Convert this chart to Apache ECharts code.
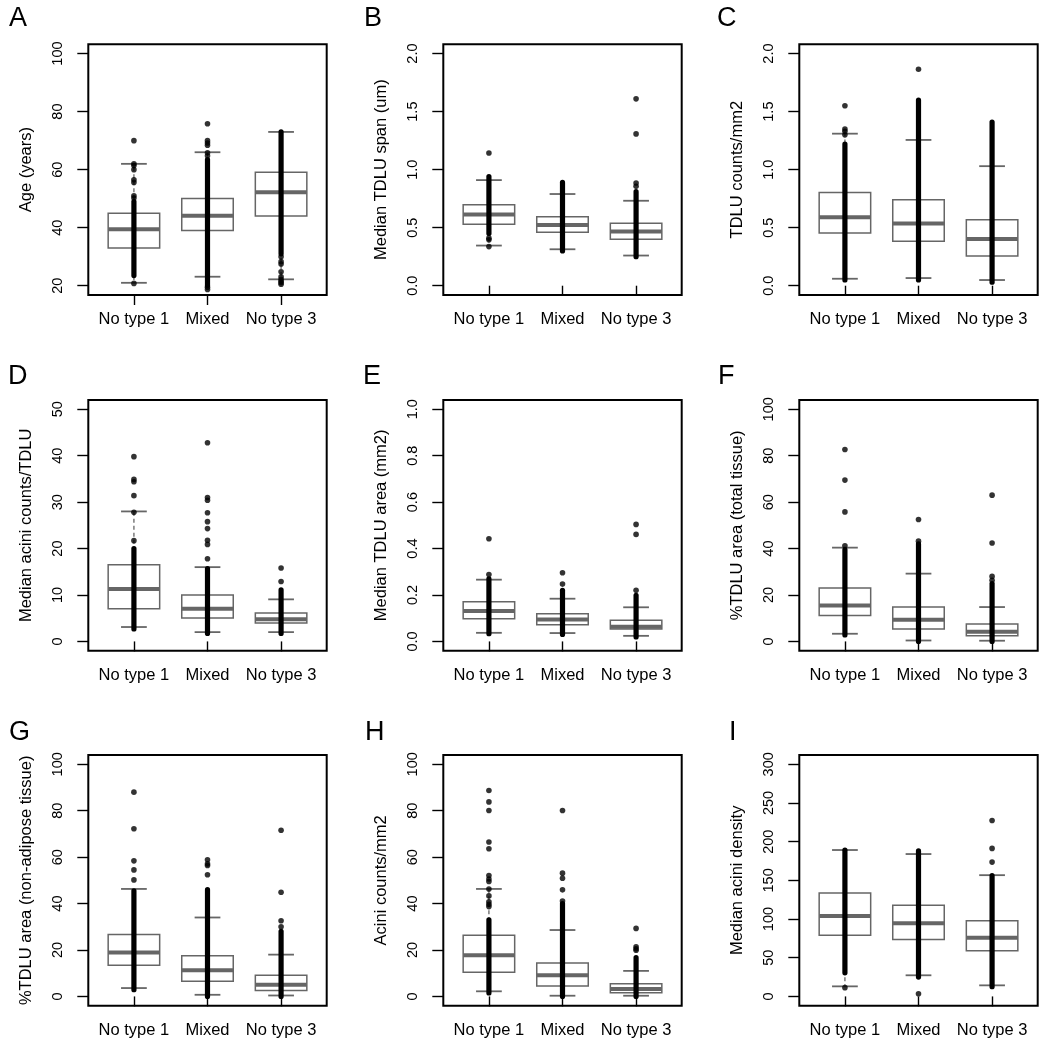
<!DOCTYPE html>
<html><head><meta charset="utf-8">
<script src="https://cdn.jsdelivr.net/npm/echarts@6/dist/echarts.min.js"></script>
<style>html,body{margin:0;padding:0;background:#fff}#c{width:1045px;height:1050px}</style>
</head><body><div id="c"></div>
<script>
// ---------------- data ----------------
const categories = ['No type 1', 'Mixed', 'No type 3'];
const panelLetters = ['A', 'B', 'C', 'D', 'E', 'F', 'G', 'H', 'I'];
const yTitles = ['Age (years)', 'Median TDLU span (um)', 'TDLU counts/mm2',
  'Median acini counts/TDLU', 'Median TDLU area (mm2)', '%TDLU area (total tissue)',
  '%TDLU area (non-adipose tissue)', 'Acini counts/mm2', 'Median acini density'];

// tick values and labels
const ageTicks = [20, 40, 60, 80, 100];
const ageTickLabels = ['20', '40', '60', '80', '100'];
const spanTicks = [0, 0.5, 1, 1.5, 2];
const spanTickLabels = ['0.0', '0.5', '1.0', '1.5', '2.0'];
const cntTicks = [0, 0.5, 1, 1.5, 2];
const cntTickLabels = ['0.0', '0.5', '1.0', '1.5', '2.0'];
const aciniTicks = [0, 10, 20, 30, 40, 50];
const aciniTickLabels = ['0', '10', '20', '30', '40', '50'];
const areaTicks = [0, 0.2, 0.4, 0.6, 0.8, 1.0];
const areaTickLabels = ['0.0', '0.2', '0.4', '0.6', '0.8', '1.0'];
const totTicks = [0, 20, 40, 60, 80, 100];
const totTickLabels = ['0', '20', '40', '60', '80', '100'];
const nonTicks = [0, 20, 40, 60, 80, 100];
const nonTickLabels = ['0', '20', '40', '60', '80', '100'];
const amTicks = [0, 20, 40, 60, 80, 100];
const amTickLabels = ['0', '20', '40', '60', '80', '100'];
const denTicks = [0, 50, 100, 150, 200, 250, 300];
const denTickLabels = ['0', '50', '100', '150', '200', '250', '300'];

// box stats per group: [lower whisker, Q1, median, Q3, upper whisker]
// dense: [low, high] of the continuous run of overplotted points
// out: individually visible points
const ageBox = [[21, 33, 39.5, 45, 62], [23.1, 39, 44.1, 50.1, 66], [22.2, 44, 52.2, 59.1, 73]];
const ageDense = [[23.5, 49], [20, 63.5], [31, 73]];
const ageOut = [[70, 62, 61.4, 60, 56.5, 55.6, 51, 50.2, 20.8], [75.8, 70, 69.2, 68.4, 65.8, 64.8, 19.5, 18.7], [30, 28.3, 27.5, 24.8, 23.1, 22.2, 21.5, 21, 20.5]];

const spanBox = [[0.346, 0.53, 0.614, 0.697, 0.91], [0.314, 0.46, 0.524, 0.594, 0.79], [0.26, 0.40, 0.467, 0.539, 0.732]];
const spanDense = [[0.45, 0.94], [0.30, 0.89], [0.25, 0.81]];
const spanOut = [[1.144, 0.41, 0.395, 0.337], [], [1.61, 1.308, 0.885, 0.856]];

const cntBox = [[0.06, 0.455, 0.59, 0.804, 1.31], [0.066, 0.383, 0.536, 0.74, 1.256], [0.049, 0.256, 0.403, 0.568, 1.03]];
const cntDense = [[0.05, 1.22], [0.05, 1.6], [0.03, 1.41]];
const cntOut = [[1.55, 1.35, 1.33, 1.30], [1.865], []];

const aciniBox = [[3.1, 7.05, 11.3, 16.5, 28], [2.0, 5.04, 7.05, 10, 16], [2.0, 3.96, 4.8, 6.1, 9.06]];
const aciniDense = [[2.7, 20], [1.7, 15.7], [1.7, 11.1]];
const aciniOut = [[39.8, 34.9, 34.4, 31.4, 27.8, 21.7], [42.8, 31, 30.4, 27.7, 25.8, 24.3, 21.8, 20.9, 17.8], [15.8, 12.9]];

const areaBox = [[0.037, 0.098, 0.131, 0.171, 0.266], [0.036, 0.072, 0.094, 0.119, 0.184], [0.024, 0.053, 0.063, 0.091, 0.147]];
const areaDense = [[0.033, 0.27], [0.03, 0.22], [0.019, 0.198]];
const areaOut = [[0.442, 0.288], [0.296, 0.247], [0.504, 0.461, 0.22]];

const totBox = [[3.3, 11.2, 15.5, 23, 40.4], [0.4, 5.3, 9.35, 14.8, 29.2], [0.3, 2.45, 4.2, 7.5, 14.8]];
const totDense = [[2.8, 39.5], [0, 42], [0, 24.9]];
const totOut = [[82.7, 69.5, 55.8, 41.2], [52.5, 43.2], [63, 42.4, 28, 26.3]];

const nonBox = [[3.6, 13.4, 18.9, 26.7, 46.3], [0.7, 6.5, 11.3, 17.5, 34], [0.4, 2.6, 5.05, 9.1, 18]];
const nonDense = [[2.9, 45.5], [0, 46], [0, 28]];
const nonOut = [[88, 72.2, 58.4, 54.5, 50.2], [58.9, 57.1, 56.4, 52.4], [71.6, 44.9, 32.6, 30]];

const amBox = [[2.2, 10.4, 17.7, 26.3, 46.3], [0.3, 4.5, 9.1, 14.4, 28.6], [0.3, 1.6, 3.2, 5.5, 11]];
const amDense = [[1.5, 33], [0, 40], [0, 16.7]];
const amOut = [[88.7, 83.8, 80.1, 66.5, 63.6, 52.1, 50.6, 49.5, 46.3, 43.3, 40.8, 39.7, 38.7], [80.1, 53.1, 50.9, 45.9, 41.1], [29.3, 21.4, 20.5, 19.9]];

const denBox = [[13, 79.2, 103.9, 133.8, 189.2], [27.3, 73.6, 94.4, 117.7, 184], [14.3, 58.9, 75.8, 97.8, 156.7]];
const denDense = [[30.5, 189], [25, 188], [12.5, 156]];
const denOut = [[11.3], [3.5], [227.3, 191.3, 173.6]];

// ---------------- assembly ----------------
const panels = [
  { ticks: ageTicks, labels: ageTickLabels, box: ageBox, dense: ageDense, out: ageOut },
  { ticks: spanTicks, labels: spanTickLabels, box: spanBox, dense: spanDense, out: spanOut },
  { ticks: cntTicks, labels: cntTickLabels, box: cntBox, dense: cntDense, out: cntOut },
  { ticks: aciniTicks, labels: aciniTickLabels, box: aciniBox, dense: aciniDense, out: aciniOut },
  { ticks: areaTicks, labels: areaTickLabels, box: areaBox, dense: areaDense, out: areaOut },
  { ticks: totTicks, labels: totTickLabels, box: totBox, dense: totDense, out: totOut },
  { ticks: nonTicks, labels: nonTickLabels, box: nonBox, dense: nonDense, out: nonOut },
  { ticks: amTicks, labels: amTickLabels, box: amBox, dense: amDense, out: amOut },
  { ticks: denTicks, labels: denTickLabels, box: denBox, dense: denDense, out: denOut }
];

const FONT = '"Liberation Sans", Arial, sans-serif';
const colLeft = [88.3, 443.3, 799.3];
const rowTop = [44.3, 400, 755];
const GW = 238.4, GH = 250.7;
const BOXCOL = '#666666';

const grids = [], xAxes = [], yAxes = [], series = [];

function renderBox(params, api) {
  const x = api.value(0), lo = api.value(1), q1 = api.value(2), med = api.value(3), q3 = api.value(4), hi = api.value(5);
  const hw = 0.35, cw = 0.175;
  const a = api.coord([x - hw, q3]), b = api.coord([x + hw, q1]);
  const m1 = api.coord([x - hw, med]), m2 = api.coord([x + hw, med]);
  const pq3 = api.coord([x, q3]), phi = api.coord([x, hi]);
  const pq1 = api.coord([x, q1]), plo = api.coord([x, lo]);
  const ch1 = api.coord([x - cw, hi]), ch2 = api.coord([x + cw, hi]);
  const cl1 = api.coord([x - cw, lo]), cl2 = api.coord([x + cw, lo]);
  const dash = { stroke: BOXCOL, lineWidth: 1.3, lineDash: [4, 3] };
  const solid = { stroke: BOXCOL, lineWidth: 1.8 };
  return {
    type: 'group', children: [
      { type: 'line', shape: { x1: pq3[0], y1: pq3[1], x2: phi[0], y2: phi[1] }, style: dash },
      { type: 'line', shape: { x1: pq1[0], y1: pq1[1], x2: plo[0], y2: plo[1] }, style: dash },
      { type: 'line', shape: { x1: ch1[0], y1: ch1[1], x2: ch2[0], y2: ch2[1] }, style: solid },
      { type: 'line', shape: { x1: cl1[0], y1: cl1[1], x2: cl2[0], y2: cl2[1] }, style: solid },
      { type: 'rect', shape: { x: a[0], y: a[1], width: b[0] - a[0], height: b[1] - a[1] }, style: { fill: '#fff', stroke: BOXCOL, lineWidth: 1.5 } },
      { type: 'line', shape: { x1: m1[0], y1: m1[1], x2: m2[0], y2: m2[1] }, style: { stroke: BOXCOL, lineWidth: 4 } }
    ]
  };
}

function renderStrip(params, api) {
  const x = api.value(0);
  const p1 = api.coord([x, api.value(1)]), p2 = api.coord([x, api.value(2)]);
  return { type: 'line', shape: { x1: p1[0], y1: p1[1], x2: p2[0], y2: p2[1] }, style: { stroke: '#000', lineWidth: 5.2, lineCap: 'round' } };
}

panels.forEach((p, i) => {
  const r = Math.floor(i / 3), c = i % 3;
  const lo = p.ticks[0], hi = p.ticks[p.ticks.length - 1];
  const ext = (hi - lo) * 0.04;
  grids.push({ left: colLeft[c], top: rowTop[r], width: GW, height: GH, show: true, borderColor: '#000', borderWidth: 2, backgroundColor: 'transparent' });
  xAxes.push({
    type: 'value', gridIndex: i, min: 0.38, max: 3.62,
    axisLine: { show: false }, splitLine: { show: false },
    axisTick: { show: true, customValues: [1, 2, 3], length: 10, lineStyle: { color: '#000', width: 1.4 } },
    axisLabel: { customValues: [1, 2, 3], formatter: v => categories[Math.round(v) - 1], fontSize: 16.5, margin: 16, color: '#000', fontFamily: FONT }
  });
  yAxes.push({
    type: 'value', gridIndex: i, min: lo - ext, max: hi + ext,
    name: yTitles[i], nameLocation: 'middle', nameGap: 53,
    nameTextStyle: { fontSize: 16.5, color: '#000', fontFamily: FONT },
    axisLine: { show: false }, splitLine: { show: false },
    axisTick: { show: true, customValues: p.ticks, length: 11, lineStyle: { color: '#000', width: 1.4 } },
    axisLabel: { customValues: p.ticks, rotate: 90, formatter: v => { const k = p.ticks.findIndex(t => Math.abs(t - v) < 1e-9); return k >= 0 ? p.labels[k] : ''; }, fontSize: 14.5, margin: 23, color: '#000', fontFamily: FONT }
  });
  series.push({
    type: 'custom', xAxisIndex: i, yAxisIndex: i, renderItem: renderBox, z: 2, silent: true,
    data: p.box.map((b, g) => [g + 1, b[0], b[1], b[2], b[3], b[4]])
  });
  series.push({
    type: 'custom', xAxisIndex: i, yAxisIndex: i, renderItem: renderStrip, z: 3, silent: true,
    data: p.dense.map((d, g) => [g + 1, d[0], d[1]])
  });
  const pts = [];
  p.out.forEach((arr, g) => arr.forEach(v => pts.push([g + 1, v])));
  series.push({
    type: 'scatter', xAxisIndex: i, yAxisIndex: i, z: 4, silent: true,
    symbol: 'circle', symbolSize: 5.6, itemStyle: { color: '#000' }, data: pts
  });
});

const letterPos = [[9, 5], [364, 5], [717, 5], [8, 363], [363, 363], [718, 363], [9, 719], [365, 719], [729, 719]];
const graphics = panelLetters.map((t, i) => ({
  type: 'text', x: letterPos[i][0], y: letterPos[i][1],
  style: { text: t, font: '27px ' + FONT, fill: '#000', verticalAlign: 'top', align: 'left' }
}));

const chart = echarts.init(document.getElementById('c'), null, { renderer: 'canvas' });
chart.setOption({
  animation: false,
  backgroundColor: '#fff',
  grid: grids, xAxis: xAxes, yAxis: yAxes, series: series,
  graphic: graphics
});
</script>
</body></html>
